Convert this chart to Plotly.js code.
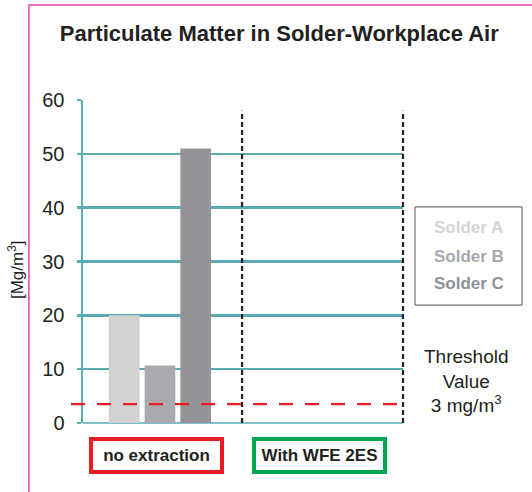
<!DOCTYPE html>
<html>
<head>
<meta charset="utf-8">
<script src="https://cdn.plot.ly/plotly-3.0.1.min.js"></script>
<style>html,body{margin:0;padding:0;background:#fff;}#chart{width:532px;height:492px;}</style>
</head>
<body>
<div id="chart"></div>
<script>
// ---- data ----
const categories = ["no extraction", "With WFE 2ES"];
const seriesNames = ["Solder A", "Solder B", "Solder C"];
const solderA = [20, null];
const solderB = [10.7, null];
const solderC = [51, null];
const thresholdLine = 3.5;
const thresholdLabel = "Threshold<br>Value<br>3 mg/m<sup>3</sup>";
const yTicks = [0, 10, 20, 30, 40, 50, 60];
const chartTitle = "Particulate Matter in Solder-Workplace Air";
const yTitle = "[Mg/m<sup>3</sup>]";

const barColors = ["#d1d2d2", "#a9aaad", "#939497"];
const textColors = ["#d4d5d6", "#a7a9ac", "#8f9195"];
const catBorder = ["#ec1c24", "#00a651"];
const teal = "#5aabb4";
const FONT = "Arial, 'Liberation Sans', Helvetica, sans-serif";

const series = [solderA, solderB, solderC];
const traces = series.map((vals, i) => ({
  type: "bar",
  name: seriesNames[i],
  x: categories,
  y: vals,
  marker: {color: barColors[i], line: {width: 0}},
  hoverinfo: "skip"
}));

const shapes = [
  {type: "rect", xref: "paper", yref: "paper", x0: -0.169, x1: 1.45, y0: -0.25, y1: 1.294,
   line: {color: "#e8409d", width: 1.5}, fillcolor: "rgba(0,0,0,0)", layer: "below"},
  {type: "line", xref: "paper", yref: "y", x0: 0.497, x1: 0.497, y0: 0, y1: 58,
   line: {color: "#231f20", width: 2.2, dash: "5px,3px"}},
  {type: "line", xref: "paper", yref: "y", x0: 1.0, x1: 1.0, y0: 0, y1: 58,
   line: {color: "#231f20", width: 2.2, dash: "5px,3px"}},
  {type: "line", xref: "paper", yref: "y", x0: -0.0375, x1: 1.0, y0: thresholdLine, y1: thresholdLine,
   line: {color: "#ec1c24", width: 2.3, dash: "14px,12px"}},
  {type: "rect", xref: "paper", yref: "paper", x0: 1.0375, x1: 1.372, y0: 0.365, y1: 0.669,
   line: {color: "#555555", width: 1}, fillcolor: "rgba(0,0,0,0)"}
];

const annotations = [];
const legendY = [0.604, 0.517, 0.433];
seriesNames.forEach((n, i) => annotations.push({
  xref: "paper", yref: "paper", x: 1.205, y: legendY[i], text: "<b>" + n + "</b>",
  showarrow: false, xanchor: "center", yanchor: "middle",
  font: {family: FONT, size: 17, color: textColors[i]}
}));
annotations.push({
  xref: "paper", yref: "paper", x: 1.199, y: 0.13, text: thresholdLabel,
  showarrow: false, xanchor: "center", yanchor: "middle",
  font: {family: FONT, size: 19, color: "#231f20"}
});
annotations.push({
  xref: "paper", yref: "paper", x: -0.209, y: 0.474, text: yTitle, textangle: -90,
  showarrow: false, xanchor: "center", yanchor: "middle",
  font: {family: FONT, size: 17, color: "#231f20"}
});
const catX = [0.2297, 0.739];
categories.forEach((c, i) => annotations.push({
  xref: "paper", yref: "paper", x: catX[i], y: -0.1006, text: "<b>" + c + "</b>",
  showarrow: false, xanchor: "center", yanchor: "middle",
  width: 127, height: 29, bordercolor: catBorder[i], borderwidth: 4, borderpad: 0,
  bgcolor: "#ffffff",
  font: {family: FONT, size: 17, color: "#231f20"}
}));

const layout = {
  width: 532, height: 492,
  margin: {l: 83, r: 129, t: 100, b: 69, pad: 0},
  paper_bgcolor: "#ffffff", plot_bgcolor: "#ffffff",
  showlegend: false,
  barmode: "group", bargap: 0.33, bargroupgap: 0.14,
  font: {family: FONT, color: "#231f20"},
  title: {text: "<b>" + chartTitle + "</b>", xref: "container", yref: "container",
          x: 0.525, y: 0.933, xanchor: "center", yanchor: "middle",
          font: {family: FONT, size: 22, color: "#231f20"}},
  xaxis: {type: "category", range: [-0.481, 1.519], showticklabels: false, showgrid: false,
          zeroline: false, showline: false, ticks: "", fixedrange: true},
  yaxis: {range: [0, 60], tickvals: yTicks, ticktext: yTicks.map(String),
          showgrid: true, gridcolor: teal, gridwidth: 2.5,
          zeroline: true, zerolinecolor: "#7fc0c6", zerolinewidth: 2.5,
          showline: true, linecolor: teal, linewidth: 2.5,
          ticks: "outside", ticklen: 4, tickwidth: 2.5, tickcolor: teal,
          ticklabelstandoff: 8,
          tickfont: {family: FONT, size: 20, color: "#231f20"},
          automargin: false, fixedrange: true},
  shapes: shapes,
  annotations: annotations
};

Plotly.newPlot("chart", traces, layout, {displayModeBar: false, staticPlot: true});
</script>
</body>
</html>
